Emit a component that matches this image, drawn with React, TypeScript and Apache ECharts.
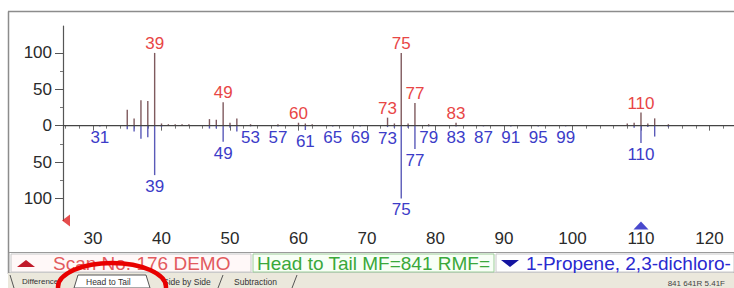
import React, { useEffect, useRef } from 'react';
import * as echarts from 'echarts';

// Sample (head) spectrum: m/z and relative intensity
const headMz = [35, 36, 37, 38, 39, 40, 41, 42, 43, 44, 47, 48, 49, 50, 51, 53, 57, 60, 61, 62, 73, 74, 75, 76, 77, 79, 83, 108, 109, 110, 111, 112, 114];
const headInt = [22, 10, 35, 34, 100, 3, 2, 2, 2, 2, 9, 8, 32, 4, 10, 2, 2, 4, 3, 2, 11, 3, 100, 3, 31, 2, 4, 3, 4, 18, 3, 10, 2];
const headLabels = [39, 49, 60, 73, 75, 77, 83, 110];

// Library (tail) spectrum
const tailMz = [31, 35, 36, 37, 38, 39, 40, 47, 48, 49, 50, 51, 53, 57, 61, 65, 69, 73, 74, 75, 76, 77, 79, 83, 87, 91, 95, 99, 109, 110, 111, 112, 114];
const tailInt = [1, 5, 8, 18, 16, 68, 2, 4, 4, 22, 3, 8, 1, 1, 6, 1, 1, 2, 3, 100, 3, 32, 1, 1, 1, 1, 1, 1, 3, 24, 2, 15, 2];
const tailLabels = [31, 39, 49, 53, 57, 61, 65, 69, 73, 75, 77, 79, 83, 87, 91, 95, 99, 110];

// Axis ticks / labels
const xLabelValues = [30, 40, 50, 60, 70, 80, 90, 100, 110, 120];
const xMinorTicks = [26, 28, 32, 34, 36, 38, 42, 44, 46, 48, 52, 54, 56, 58, 62, 64, 66, 68, 72, 74, 76, 78, 82, 84, 86, 88, 92, 94, 96, 98, 102, 104, 106, 108, 112, 114, 116, 118, 122];
const yLabelValues = [-100, -50, 0, 50, 100];
const yMinorTicks = [-75, -25, 25, 75];

// Cursor markers on the m/z axis
const cursorMarks = [
  { mz: 26.06, color: '#e02020', rotate: 90, size: [12, 8], offset: [0, 0] },
  { mz: 110, color: '#1c1cc0', rotate: 0, size: [15, 8], offset: [0, 5] },
];

const X_MIN = 25.62;
const X_MAX = 123.58;
const Y_MIN = -130.4;
const Y_MAX = 137;

const FONT = '"Liberation Sans", Arial, sans-serif';

function makeRender(labels: number[], lineColor: string, textColor: string) {
  return (params: any, api: any) => {
    const mz = api.value(0);
    const v = api.value(1);
    const base = api.coord([mz, 0]);
    const tip = api.coord([mz, v]);
    const children: any[] = [
      {
        type: 'line',
        shape: { x1: base[0], y1: base[1], x2: tip[0], y2: tip[1] },
        style: { stroke: lineColor, lineWidth: 1.4 },
      },
    ];
    if (labels.indexOf(mz) >= 0) {
      children.push({
        type: 'text',
        style: {
          text: String(mz),
          x: tip[0],
          y: v > 0 ? tip[1] - 1 : tip[1] + 3,
          align: 'center',
          verticalAlign: v > 0 ? 'bottom' : 'top',
          fill: textColor,
          font: `17px ${FONT}`,
        },
      });
    }
    return { type: 'group', children };
  };
}

export default function App() {
  const ref = useRef<HTMLDivElement>(null);

  useEffect(() => {
    if (!ref.current) return;
    const chart = echarts.init(ref.current, null, { renderer: 'svg' });

    const headData = headMz.map((m, i) => [m, headInt[i]]);
    const tailData = tailMz.map((m, i) => [m, -tailInt[i]]);

    const axisText = { color: '#2a2a2a', fontSize: 17, fontFamily: FONT };

    const option: any = {
      animation: false,
      backgroundColor: '#ffffff',
      grid: { left: 63, right: 0, top: 26, bottom: 67.5, containLabel: false },
      xAxis: [
        {
          type: 'value',
          min: X_MIN,
          max: X_MAX,
          position: 'bottom',
          axisLine: { show: true, lineStyle: { color: '#555', width: 1.2 } },
          axisTick: { show: true, customValues: xLabelValues, length: 5, lineStyle: { color: '#666' } },
          axisLabel: { customValues: xLabelValues, margin: 9, ...axisText },
          splitLine: { show: false },
        },
        {
          type: 'value',
          min: X_MIN,
          max: X_MAX,
          position: 'bottom',
          axisLine: { show: false },
          axisTick: { show: true, customValues: xMinorTicks, length: 3, lineStyle: { color: '#777' } },
          axisLabel: { show: false },
          splitLine: { show: false },
        },
      ],
      yAxis: [
        {
          type: 'value',
          min: Y_MIN,
          max: Y_MAX,
          position: 'left',
          axisLine: { show: true, lineStyle: { color: '#555', width: 1.2 } },
          axisTick: { show: true, customValues: yLabelValues, length: 8, lineStyle: { color: '#555' } },
          axisLabel: {
            customValues: yLabelValues,
            margin: 11,
            formatter: (v: number) => String(Math.abs(v)),
            ...axisText,
          },
          splitLine: { show: false },
        },
        {
          type: 'value',
          min: Y_MIN,
          max: Y_MAX,
          position: 'left',
          axisLine: { show: false },
          axisTick: { show: true, customValues: yMinorTicks, length: 3, lineStyle: { color: '#777' } },
          axisLabel: { show: false },
          splitLine: { show: false },
        },
      ],
      series: [
        {
          type: 'line',
          data: [[X_MIN, 0], [X_MAX, 0]],
          symbol: 'none',
          lineStyle: { color: '#444', width: 1.2 },
          silent: true,
        },
        {
          type: 'custom',
          renderItem: makeRender(headLabels, '#7f5a5e', '#e84646'),
          data: headData,
          clip: false,
        },
        {
          type: 'custom',
          renderItem: makeRender(tailLabels, '#5a5ab8', '#3c3cc8'),
          data: tailData,
          clip: false,
        },
        ...cursorMarks.map((c) => ({
          type: 'scatter',
          data: [[c.mz, Y_MIN]],
          symbol: 'triangle',
          symbolSize: c.size,
          symbolRotate: c.rotate,
          symbolOffset: c.offset,
          itemStyle: { color: c.color },
          clip: false,
          silent: true,
          z: 5,
        })),
      ],
      graphic: [
        // window frame
        { type: 'line', shape: { x1: 8, y1: 11.5, x2: 734, y2: 11.5 }, style: { stroke: '#8c8c8c', lineWidth: 1.5 } },
        { type: 'line', shape: { x1: 8.5, y1: 11.5, x2: 8.5, y2: 274 }, style: { stroke: '#8c8c8c', lineWidth: 1.5 } },
        // status bar
        { type: 'rect', shape: { x: 9, y: 252.5, width: 725, height: 20.5 }, style: { fill: '#ffffff', stroke: '#9a9a9a', lineWidth: 1 } },
        { type: 'rect', shape: { x: 11, y: 254, width: 240, height: 18 }, style: { fill: '#fff8f8', stroke: '#c8c8c8', lineWidth: 1 } },
        { type: 'rect', shape: { x: 253, y: 254, width: 241, height: 18 }, style: { fill: '#f8fff6', stroke: '#9ccc98', lineWidth: 1 } },
        { type: 'rect', shape: { x: 496, y: 254, width: 238, height: 18 }, style: { fill: '#ffffff', stroke: '#c8c8c8', lineWidth: 1 } },
        { type: 'polygon', shape: { points: [[17, 267], [26, 260], [35, 267]] }, style: { fill: '#c01a2a' } },
        { type: 'text', style: { text: 'Scan No. 176 DEMO', x: 53, y: 263.5, verticalAlign: 'middle', fill: '#e25a5e', font: `19px ${FONT}` } },
        { type: 'text', style: { text: 'Head to Tail MF=841 RMF=', x: 257, y: 263.5, verticalAlign: 'middle', fill: '#3aa83a', font: `19px ${FONT}` } },
        { type: 'polygon', shape: { points: [[501, 260], [519, 260], [510, 267]] }, style: { fill: '#1414a0' } },
        { type: 'text', style: { text: '1-Propene, 2,3-dichloro-', x: 526, y: 263.5, verticalAlign: 'middle', fill: '#2a2ad0', font: `19px ${FONT}` } },
        // tab bar
        { type: 'rect', shape: { x: 8, y: 273, width: 726, height: 15 }, style: { fill: '#ebe8dc' } },
        { type: 'polygon', shape: { points: [[74, 288], [78, 275], [146, 275], [150, 288]] }, style: { fill: '#ffffff', stroke: '#555', lineWidth: 1 } },
        { type: 'line', shape: { x1: 10, y1: 275, x2: 14, y2: 288 }, style: { stroke: '#555', lineWidth: 1 } },
        { type: 'line', shape: { x1: 218, y1: 288, x2: 223, y2: 275 }, style: { stroke: '#555', lineWidth: 1 } },
        { type: 'line', shape: { x1: 292, y1: 288, x2: 297, y2: 275 }, style: { stroke: '#555', lineWidth: 1 } },
        { type: 'text', style: { text: 'Difference', x: 22, y: 281.5, verticalAlign: 'middle', fill: '#333', font: `8px ${FONT}` } },
        { type: 'text', style: { text: 'Head to Tail', x: 86, y: 282, verticalAlign: 'middle', fill: '#333', font: `8.5px ${FONT}` } },
        { type: 'text', style: { text: 'Side by Side', x: 163, y: 281.5, verticalAlign: 'middle', fill: '#333', font: `8.5px ${FONT}` } },
        { type: 'text', style: { text: 'Subtraction', x: 234, y: 281.5, verticalAlign: 'middle', fill: '#333', font: `8.5px ${FONT}` } },
        { type: 'text', style: { text: '841 641R 5.41F', x: 725, y: 283, align: 'right', verticalAlign: 'middle', fill: '#444', font: `8px ${FONT}` } },
        // annotation ellipse
        { type: 'ellipse', z: 100, shape: { cx: 112, cy: 287, rx: 54, ry: 24 }, style: { fill: 'none', stroke: '#e80000', lineWidth: 4.5 } },
      ],
    };

    chart.setOption(option);
    return () => chart.dispose();
  }, []);

  return (
    <div
      ref={ref}
      style={{ position: 'fixed', left: 0, top: 0, width: 734, height: 288, background: '#fff' }}
    />
  );
}
